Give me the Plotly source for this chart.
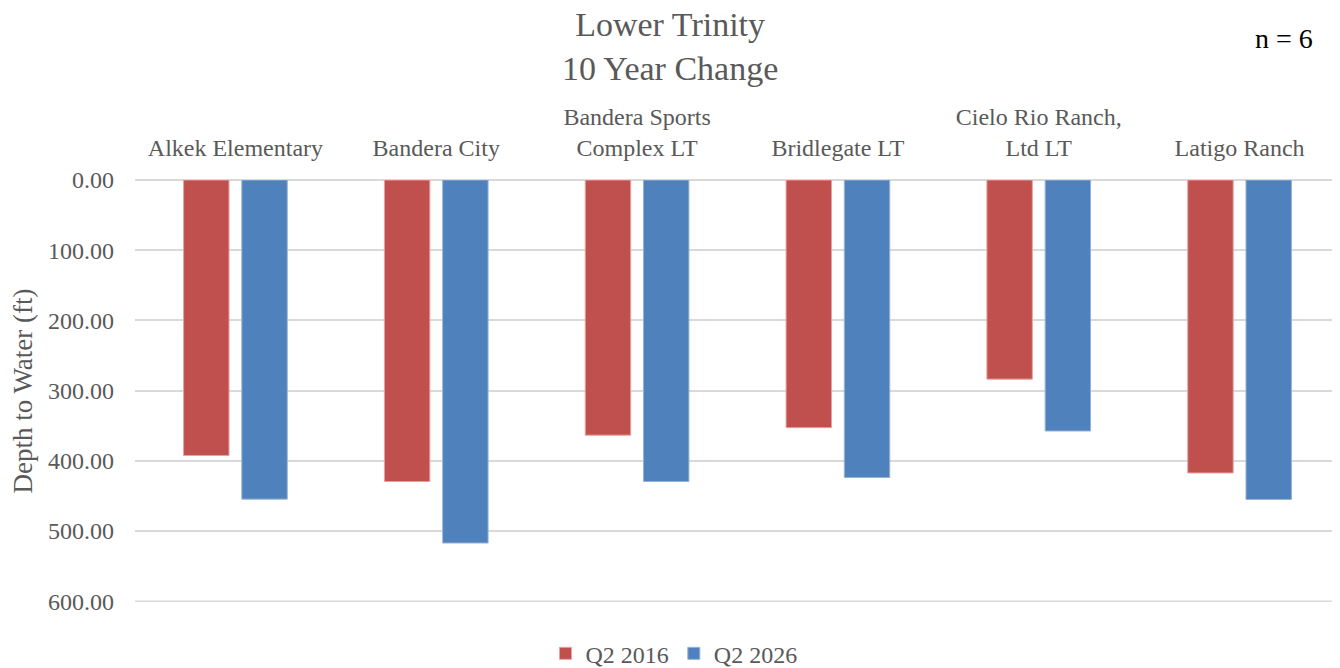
import plotly.graph_objects as go

categories = ["Alkek Elementary", "Bandera City", "Bandera Sports<br>Complex LT",
              "Bridlegate LT", "Cielo Rio Ranch,<br>Ltd LT", "Latigo Ranch"]
q2_2016 = [392.3, 429.4, 363.4, 352.7, 283.6, 417.2]
q2_2026 = [454.5, 517.0, 429.4, 423.7, 357.5, 455.0]
y_ticks = [0, 100, 200, 300, 400, 500, 600]

FONT = "Liberation Serif"
TXT = "#595959"

fig = go.Figure()
fig.add_trace(go.Bar(x=categories, y=q2_2016, name="Q2 2016",
                     marker=dict(color="#C0504D", line=dict(color="#E8A09E", width=1))))
fig.add_trace(go.Bar(x=categories, y=q2_2026, name="Q2 2026",
                     marker=dict(color="#4F81BD", line=dict(color="#95B3D7", width=1))))

fig.update_layout(
    width=1340, height=668,
    margin=dict(l=127, r=8, t=172, b=74),
    paper_bgcolor="white", plot_bgcolor="white",
    barmode="group", bargap=0.42, bargroupgap=0.22,
    font=dict(family=FONT, color=TXT, size=24),
    xaxis=dict(side="top", showgrid=False, showline=False, ticks="",
               ticklabelstandoff=18,
               tickfont=dict(size=24, color=TXT), automargin=False),
    yaxis=dict(range=[601, 0], tickvals=y_ticks, tickformat=".2f",
               showgrid=True, gridcolor="#D9D9D9", gridwidth=1.5,
               zeroline=True, zerolinecolor="#D9D9D9", zerolinewidth=1.5,
               ticks="", ticklabelstandoff=20, tickfont=dict(size=24, color=TXT),
               title=dict(text="Depth to Water (ft)", font=dict(size=27, color=TXT), standoff=8),
               automargin=False),
    legend=dict(orientation="h", x=0.497, xref="container", xanchor="center",
                y=0.067, yref="container", yanchor="top",
                font=dict(size=24, color=TXT), traceorder="normal"),
    annotations=[
        dict(text="Lower Trinity<br>10 Year Change", x=(670 - 8 - 127) / 1205, y=1.316,
             xref="paper", yref="paper", xanchor="center", yanchor="middle",
             showarrow=False, font=dict(size=34, color=TXT, family=FONT)),
        dict(text="n = 6", x=0.9535, y=1.336, xref="paper", yref="paper",
             xanchor="center", yanchor="middle", showarrow=False,
             font=dict(size=28, color="#000000", family=FONT)),
    ],
)
# gridline at the last tick (edge gridline is not drawn by plotly)
fig.add_shape(type="line", xref="paper", yref="y", x0=0, x1=1,
              y0=y_ticks[-1], y1=y_ticks[-1], layer="below",
              line=dict(color="#D9D9D9", width=1.5))

fig.write_html("out.html")
